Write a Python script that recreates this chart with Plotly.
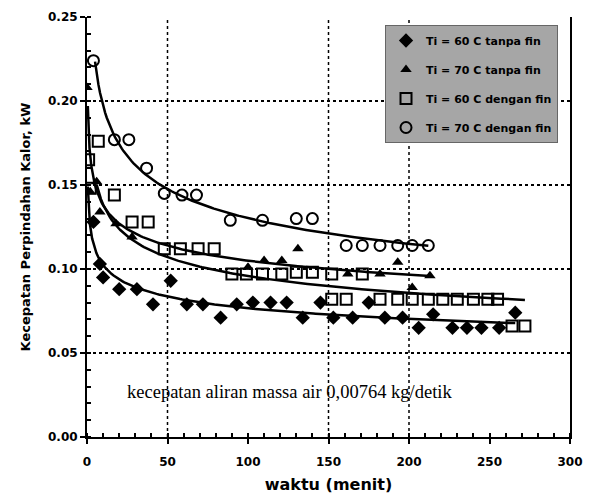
import numpy as np
import plotly.graph_objects as go

# ---- data ----
series_names = ["Ti = 60 C tanpa fin", "Ti = 70 C tanpa fin",
                "Ti = 60 C dengan fin", "Ti = 70 C dengan fin"]

dia_t = [4, 8, 10, 20, 31, 41, 52, 62, 72, 83, 93, 103, 114, 124, 134, 145, 153,
         165, 175, 185, 196, 206, 215, 227, 236, 245, 256, 266]
dia_y = [0.128, 0.103, 0.095, 0.088, 0.088, 0.079, 0.093, 0.079, 0.079, 0.071, 0.079,
         0.080, 0.080, 0.080, 0.071, 0.080, 0.071, 0.071, 0.080, 0.071, 0.071, 0.065,
         0.073, 0.065, 0.065, 0.065, 0.065, 0.074]

tri_t = [0, 2, 6, 8, 18, 28, 100, 110, 121, 131, 162, 182, 193, 202, 213]
tri_y = [0.208, 0.146, 0.152, 0.134, 0.127, 0.119, 0.101, 0.105, 0.105, 0.112,
         0.097, 0.097, 0.104, 0.089, 0.096]

sq_t = [1, 2, 7, 17, 28, 38, 48, 58, 69, 79, 90, 99, 109, 121, 130, 140, 152, 171,
        152, 161, 182, 193, 202, 212, 221, 230, 240, 249, 255, 264, 272]
sq_y = [0.165, 0.148, 0.176, 0.144, 0.128, 0.128, 0.112, 0.112, 0.112, 0.112, 0.097,
        0.097, 0.097, 0.097, 0.098, 0.098, 0.097, 0.097, 0.082, 0.082, 0.082, 0.082,
        0.082, 0.082, 0.082, 0.082, 0.082, 0.082, 0.082, 0.066, 0.066]

circ_t = [4, 17, 26, 37, 48, 59, 68, 89, 109, 130, 140, 161, 171, 182, 193, 202, 212]
circ_y = [0.224, 0.177, 0.177, 0.160, 0.145, 0.144, 0.144, 0.129, 0.129, 0.130, 0.130,
          0.114, 0.114, 0.114, 0.114, 0.114, 0.114]

# time at which each fitted curve begins
curve_start = [0.5, 0.5, 6, 5]

x_ticks = [0, 50, 100, 150, 200, 250, 300]
y_ticks = [0.00, 0.05, 0.10, 0.15, 0.20, 0.25]
x_grid = [50, 150, 200]
note = "kecepatan aliran massa air 0,00764 kg/detik"

# ---- figure ----
fig = go.Figure()

series = [
    (dia_t, dia_y, "diamond", "black", 0, 11),
    (tri_t, tri_y, "triangle-up", "black", 0, 10),
    (sq_t, sq_y, "square-open", "black", 2, 11),
    (circ_t, circ_y, "circle-open", "black", 2, 11),
]

for name, (t, y, sym, col, lw, sz), t0 in zip(series_names, series, curve_start):
    t = np.array(t, float)
    y = np.array(y, float)
    tt = np.clip(t, 1, None)
    b, loga = np.polyfit(np.log(tt), np.log(y), 1)
    xs = np.linspace(t0, t.max(), 200)
    ys = np.exp(loga) * xs ** b
    fig.add_trace(go.Scatter(x=xs, y=ys, mode="lines", showlegend=False,
                             line=dict(color="black", width=2.5), hoverinfo="skip"))
    fig.add_trace(go.Scatter(x=t, y=y, mode="markers", name=name, legendgroup=name,
                             marker=dict(symbol=sym, size=sz, color=col,
                                         line=dict(color="black", width=lw))))

for gx in x_grid:
    fig.add_shape(type="line", xref="x", yref="y", x0=gx, x1=gx, y0=0, y1=0.25,
                  line=dict(color="black", width=1.5, dash="dot"), layer="below")

fig.add_annotation(x=126, y=0.027, xref="x", yref="y", text=note, showarrow=False,
                   font=dict(family="Liberation Serif", size=18.5, color="black"))

fig.update_layout(
    width=595, height=499,
    margin=dict(l=79, r=33, t=9, b=70),
    paper_bgcolor="white", plot_bgcolor="white",
    font=dict(family="DejaVu Sans", size=12, color="black"),
    legend=dict(x=0.617, y=0.981, xanchor="left", yanchor="top",
                bgcolor="#a6a6a6", bordercolor="#666666", borderwidth=1,
                font=dict(size=11, color="black", weight="bold"), tracegroupgap=10,
                entrywidth=160),
    showlegend=True,
)
fig.update_xaxes(range=[0, 300], tickvals=x_ticks, showgrid=False, automargin=False,
                 showline=True, linecolor="black", linewidth=2, mirror=False,
                 ticks="outside", ticklen=5, tickwidth=2, tickcolor="black",
                 ticklabelstandoff=8,
                 minor=dict(dtick=10, ticks="inside", ticklen=4, tickcolor="black", showgrid=False),
                 zeroline=False,
                 title=dict(text="waktu (menit)", font=dict(size=16, weight="bold"), standoff=10),
                 tickfont=dict(size=12, weight="bold"))
fig.update_yaxes(range=[0, 0.25], tickvals=y_ticks, tickformat=".2f", automargin=False,
                 showgrid=True, gridcolor="black", gridwidth=1.5, griddash="dot",
                 showline=True, linecolor="black", linewidth=2, mirror=True,
                 ticks="outside", ticklen=5, tickwidth=2, tickcolor="black",
                 minor=dict(dtick=0.01, ticks="inside", ticklen=4, tickcolor="black", showgrid=False),
                 zeroline=False,
                 title=dict(text="Kecepatan Perpindahan Kalor, kW", font=dict(size=13, weight="bold"), standoff=14),
                 tickfont=dict(size=12, weight="bold"))

fig.write_html("out.html")
